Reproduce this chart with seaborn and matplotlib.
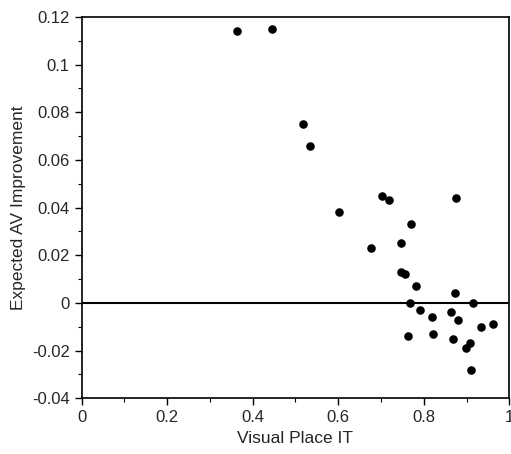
import numpy as np
import pandas as pd
import seaborn as sns
import matplotlib.pyplot as plt
from matplotlib.ticker import MultipleLocator

visual_place_it = [0.364, 0.445, 0.517, 0.534, 0.602, 0.703, 0.718, 0.875,
                   0.770, 0.676, 0.746, 0.746, 0.757, 0.781, 0.872, 0.767,
                   0.915, 0.790, 0.818, 0.863, 0.879, 0.934, 0.962, 0.764,
                   0.822, 0.868, 0.908, 0.899, 0.911]
expected_av_improvement = [0.114, 0.115, 0.075, 0.066, 0.038, 0.045, 0.043, 0.044,
                           0.033, 0.023, 0.025, 0.013, 0.012, 0.007, 0.004, 0.0,
                           0.0, -0.003, -0.006, -0.004, -0.007, -0.010, -0.009, -0.014,
                           -0.013, -0.015, -0.017, -0.019, -0.028]
x_ticks = [0, 0.2, 0.4, 0.6, 0.8, 1]
x_tick_labels = ["0", "0.2", "0.4", "0.6", "0.8", "1"]
y_ticks = [-0.04, -0.02, 0, 0.02, 0.04, 0.06, 0.08, 0.1, 0.12]
y_tick_labels = ["-0.04", "-0.02", "0", "0.02", "0.04", "0.06", "0.08", "0.1", "0.12"]

df = pd.DataFrame({"Visual Place IT": visual_place_it,
                   "Expected AV Improvement": expected_av_improvement})

sns.set_style("ticks")
plt.rcParams['font.family'] = ['Liberation Sans', 'DejaVu Sans']

fig = plt.figure(figsize=(5.11, 4.54), dpi=100)
ax = fig.add_axes([0.1595, 0.1227, 0.8375, 0.84])
sns.scatterplot(data=df, x="Visual Place IT", y="Expected AV Improvement",
                color="black", s=38, edgecolor="black", linewidth=0, ax=ax)
ax.axhline(0, color="black", linewidth=1.5)

ax.set_xticks(x_ticks, x_tick_labels)
ax.set_yticks(y_ticks, y_tick_labels)
ax.xaxis.set_minor_locator(MultipleLocator(0.1))
ax.yaxis.set_minor_locator(MultipleLocator(0.01))
ax.set_xlim(0, 1)
ax.set_ylim(-0.04, 0.12)
ax.tick_params(which="major", direction="out", length=5, width=1, labelsize=12, color="black")
ax.tick_params(which="minor", direction="out", length=3, width=0.8, color="black")
for sp in ax.spines.values():
    sp.set_color("black")
    sp.set_linewidth(1.2)
ax.set_xlabel("Visual Place IT", fontsize=12.5)
ax.set_ylabel("Expected AV Improvement", fontsize=12.5)

plt.savefig("out.png", dpi=100)
